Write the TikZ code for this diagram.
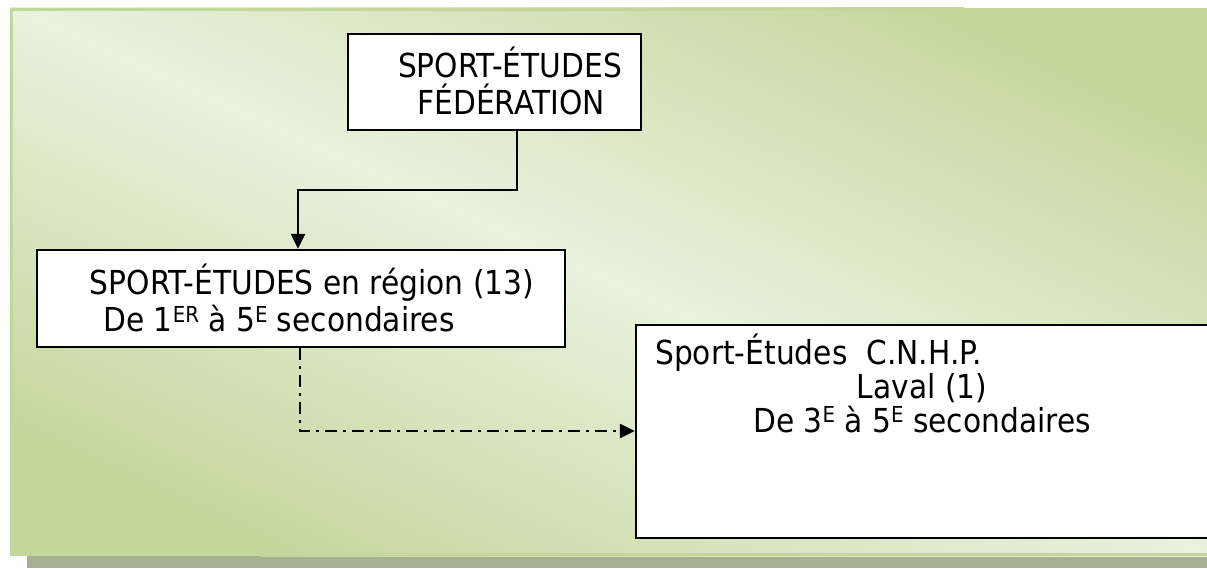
\documentclass[tikz,border=0pt]{standalone}
\usepackage{fontspec}
\setmainfont{DejaVu Sans}[FakeStretch=0.9]
\usetikzlibrary{arrows.meta}
\definecolor{panelgreen}{RGB}{195,214,155}
\definecolor{panellight}{RGB}{234,241,222}
\definecolor{shadowgray}{RGB}{166,176,146}
\newcommand\mysup[1]{\raisebox{9.5pt}{\fontsize{22}{22}\selectfont #1}}
\begin{document}
\begin{tikzpicture}[x=1pt,y=1pt,
  box/.style={draw=black, line width=2.4pt, fill=white, inner sep=0pt},
  txt/.style={font=\fontsize{33}{39}\selectfont, inner sep=0pt},
  link/.style={line width=2.4pt, -{Triangle[length=15pt,width=14pt]}},
  dashlink/.style={link, dash pattern=on 12pt off 6pt on 3pt off 6pt},
  ]
\useasboundingbox (0,0) rectangle (1207,568);
\clip (0,0) rectangle (1207,568);
% shadow and panel
\fill[shadowgray] (27,0) rectangle (1215,12);
\begin{scope}
  \clip (10,12) rectangle (1215,560);
  \fill[panelgreen] (10,12) rectangle (1215,560);
  \begin{scope}[transform canvas={rotate around={-24.6:(612.5,286)}}]
    \shade[top color=panelgreen, bottom color=panelgreen, middle color=panellight]
      (-150,-110) rectangle (1375,682);
  \end{scope}
\end{scope}
\draw[panelgreen, line width=3pt] (1215,13.5) -- (11.5,13.5) -- (11.5,558.5) -- (1215,558.5);
% boxes
\node[box, minimum width=293pt, minimum height=96pt] (fed) at (494.5,486) {};
\node[box, minimum width=528pt, minimum height=97pt] (reg) at (301,269.5) {};
\node[box, minimum width=600pt, minimum height=213pt] (cnhp) at (936,136.5) {};
% texts
\node[txt, anchor=base] (fed1) at (510,490) {SPORT-ÉTUDES};
\node[txt, anchor=base] (fed2) at (511,453) {FÉDÉRATION};
\node[txt, anchor=base] (reg1) at (312,273) {SPORT-ÉTUDES en région (13)};
\node[txt, anchor=base] (reg2) at (279,236) {De 1\mysup{ER} à 5\mysup{E} secondaires};
\node[txt, anchor=base west] (cn1) at (655,204) {Sport-Études\ \ C.N.H.P.};
\node[txt, anchor=base] (cn2) at (922,170) {Laval (1)};
\node[txt, anchor=base] (cn3) at (922,136) {De 3\mysup{E} à 5\mysup{E} secondaires};
% connectors
\coordinate (k1) at (517,378);
\coordinate (k2) at (298,378);
\draw[link] (k1 |- fed.south) -- (k1) -- (k2) -- (k2 |- reg.north);
\coordinate (k3) at (300,137);
\draw[dashlink] (k3 |- reg.south) -- (k3) -- (k3 -| cnhp.west);
\end{tikzpicture}
\end{document}
